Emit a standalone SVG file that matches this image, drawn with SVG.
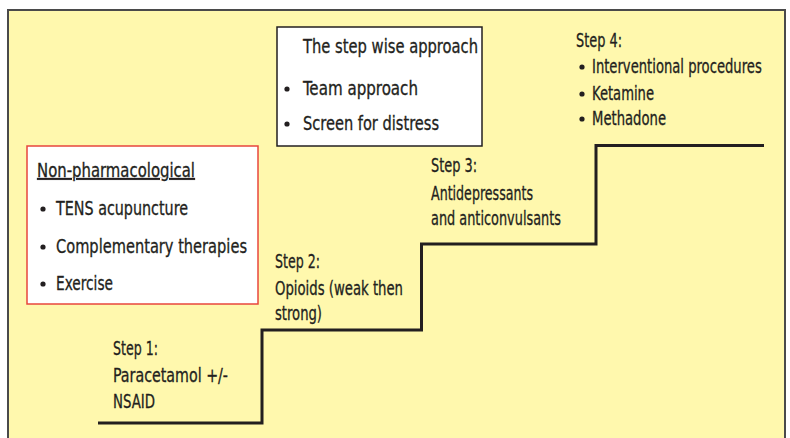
<svg xmlns="http://www.w3.org/2000/svg" width="790" height="438" viewBox="0 0 790 438">
<style>
text{font-family:"Liberation Sans Narrow","DejaVu Sans Condensed","Liberation Sans",sans-serif;font-size:19px;fill:#231f20;stroke:#231f20;stroke-width:0.3}
.dot{fill:#231f20}
</style>
<rect x="0" y="0" width="790" height="438" fill="#ffffff"/>
<rect id="panel" x="8" y="10" width="777" height="440" fill="#fff8ad" stroke="#4a4a4a" stroke-width="2"/>
<g id="connectors">
<path d="M98 423 H262 V330 H421.5 V244 H596 V145.5 H764" fill="none" stroke="#231f20" stroke-width="3"/>
</g>
<g id="approach">
<rect x="277" y="27" width="205" height="119" fill="#ffffff" stroke="#231f20" stroke-width="1.5"/>
<text x="303" y="53" textLength="175" lengthAdjust="spacingAndGlyphs">The step wise approach</text>
<circle class="dot" cx="287" cy="89" r="2.6"/>
<text x="303" y="95" textLength="115" lengthAdjust="spacingAndGlyphs">Team approach</text>
<circle class="dot" cx="287" cy="124" r="2.6"/>
<text x="303" y="130" textLength="136" lengthAdjust="spacingAndGlyphs">Screen for distress</text>
</g>
<g id="nonpharm">
<rect x="27" y="146" width="231" height="158" fill="#ffffff" stroke="#e8463c" stroke-width="1.5"/>
<text x="37" y="177" textLength="158" lengthAdjust="spacingAndGlyphs" text-decoration="underline">Non-pharmacological</text>
<circle class="dot" cx="43" cy="209" r="2.6"/>
<text x="56" y="215" textLength="132" lengthAdjust="spacingAndGlyphs">TENS acupuncture</text>
<circle class="dot" cx="43" cy="247" r="2.6"/>
<text x="56" y="253" textLength="191" lengthAdjust="spacingAndGlyphs">Complementary therapies</text>
<circle class="dot" cx="43" cy="284" r="2.6"/>
<text x="56" y="290" textLength="57" lengthAdjust="spacingAndGlyphs">Exercise</text>
</g>
<g id="step1">
<text x="113" y="355" textLength="45" lengthAdjust="spacingAndGlyphs">Step 1:</text>
<text x="113" y="382" textLength="115" lengthAdjust="spacingAndGlyphs">Paracetamol +/-</text>
<text x="113" y="408" textLength="42" lengthAdjust="spacingAndGlyphs">NSAID</text>
</g>
<g id="step2">
<text x="275" y="268" textLength="45" lengthAdjust="spacingAndGlyphs">Step 2:</text>
<text x="275" y="295" textLength="128" lengthAdjust="spacingAndGlyphs">Opioids (weak then</text>
<text x="275" y="320" textLength="47" lengthAdjust="spacingAndGlyphs">strong)</text>
</g>
<g id="step3">
<text x="431" y="172" textLength="46" lengthAdjust="spacingAndGlyphs">Step 3:</text>
<text x="431" y="200" textLength="102" lengthAdjust="spacingAndGlyphs">Antidepressants</text>
<text x="431" y="225" textLength="130" lengthAdjust="spacingAndGlyphs">and anticonvulsants</text>
</g>
<g id="step4">
<text x="576" y="47" textLength="46" lengthAdjust="spacingAndGlyphs">Step 4:</text>
<circle class="dot" cx="582" cy="67" r="2.6"/>
<text transform="matrix(0.82 0 0 1 592 73)" x="0" y="0" textLength="207" lengthAdjust="spacingAndGlyphs">Interventional procedures</text>
<circle class="dot" cx="582" cy="94" r="2.6"/>
<text x="592" y="100" textLength="62" lengthAdjust="spacingAndGlyphs">Ketamine</text>
<circle class="dot" cx="582" cy="119" r="2.6"/>
<text x="592" y="125" textLength="74" lengthAdjust="spacingAndGlyphs">Methadone</text>
</g>
</svg>
